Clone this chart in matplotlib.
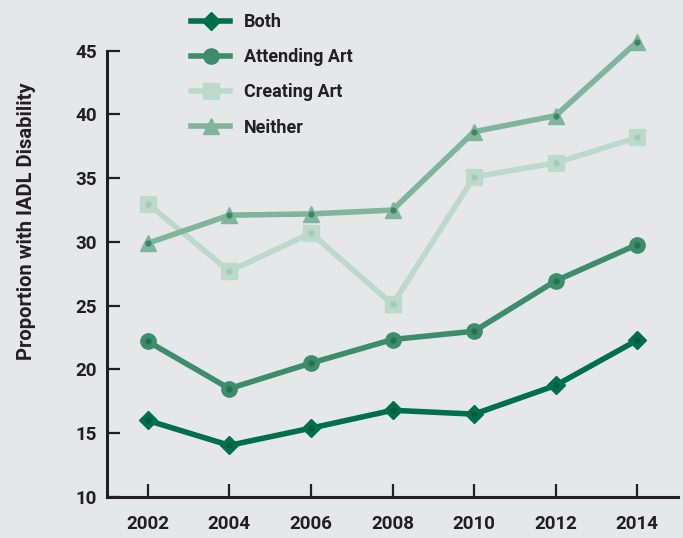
import matplotlib
matplotlib.use("Agg")
import matplotlib.pyplot as plt

years = [2002, 2004, 2006, 2008, 2010, 2012, 2014]
both = [16.0, 14.05, 15.4, 16.8, 16.5, 18.75, 22.3]
attending = [22.2, 18.5, 20.5, 22.35, 23.0, 26.95, 29.8]
creating = [33.0, 27.7, 30.7, 25.1, 35.1, 36.2, 38.2]
neither = [29.9, 32.1, 32.2, 32.5, 38.65, 39.9, 45.7]

bg = "#e6e7e9"
txt = "#231f20"
plt.rcParams["font.family"] = ["Roboto", "DejaVu Sans"]
plt.rcParams["font.weight"] = "bold"

fig = plt.figure(figsize=(6.83, 5.38), dpi=100, facecolor=bg)
ax = fig.add_axes([0.1567, 0.0762, 0.836, 0.877], facecolor=bg)

# (label, values, line colour, marker, marker size, dot colour)
series = [
    ("Both", both, "#00704a", "D", 9, "#005c3c"),
    ("Attending Art", attending, "#3d8c6c", "o", 11, "#25724f"),
    ("Creating Art", creating, "#bcd9cb", "s", 12, "#a2cbb6"),
    ("Neither", neither, "#80b59d", "^", 12, "#3d8566"),
]
for name, vals, col, mk, ms, dot in series:
    ax.plot(years, vals, color=col, lw=4, marker=mk, ms=ms, mec=col,
            mfc=col, label=name, clip_on=False, zorder=3)
    ax.plot(years, vals, ls="none", marker="o", ms=3.5, color=dot,
            clip_on=False, zorder=4)

ax.set_xlim(2001, 2015)
ax.set_ylim(10, 47)
ax.set_xticks(years)
ax.set_yticks([10, 15, 20, 25, 30, 35, 40, 45])
for s in ["top", "right"]:
    ax.spines[s].set_visible(False)
for s in ["left", "bottom"]:
    ax.spines[s].set_linewidth(2.2)
    ax.spines[s].set_color(txt)
ax.spines["left"].set_bounds(10, 45)
ax.tick_params(axis="both", direction="in", length=9.5, width=1.6,
               color=txt, labelcolor=txt, labelsize=13.5)
ax.tick_params(axis="x", pad=13)
ax.tick_params(axis="y", pad=7)
for lab in ax.get_xticklabels() + ax.get_yticklabels():
    lab.set_fontweight("bold")

ax.set_ylabel("Proportion with IADL Disability", fontsize=14.5,
              fontweight="bold", color=txt)
ax.yaxis.set_label_coords(-0.125, 0.585)

leg = ax.legend(loc="upper left", bbox_to_anchor=(0.118, 1.06), frameon=False,
                fontsize=13, handlelength=2.2, labelspacing=0.95,
                handletextpad=0.75)
for t in leg.get_texts():
    t.set_color(txt)
    t.set_fontweight("bold")

fig.savefig("out.png", dpi=100, facecolor=bg)
